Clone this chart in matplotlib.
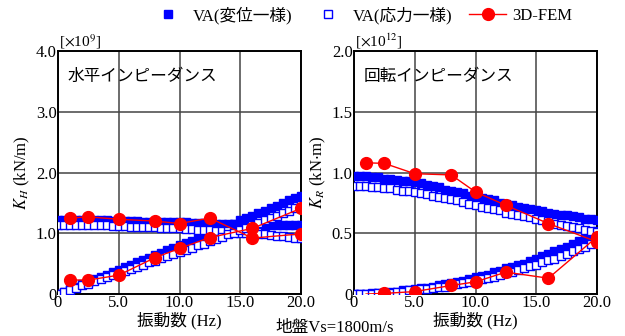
import matplotlib
matplotlib.use("Agg")
import matplotlib.pyplot as plt
from matplotlib.lines import Line2D

FAM = ['Liberation Serif', 'Noto Sans CJK JP']
plt.rcParams['font.family'] = FAM
plt.rcParams['mathtext.fontset'] = 'stix'

# frequency (Hz), 0.5 Hz step
freq = [i * 0.5 for i in range(41)]

# horizontal impedance K_H [x1e9 kN/m]
kh_re_disp = [1.22, 1.22, 1.22, 1.22, 1.21, 1.21, 1.21, 1.21, 1.21, 1.20, 1.20,
              1.20, 1.20, 1.20, 1.19, 1.19, 1.19, 1.19, 1.18, 1.18, 1.18,
              1.18, 1.17, 1.17, 1.17, 1.17, 1.16, 1.16, 1.16, 1.16, 1.15,
              1.15, 1.15, 1.15, 1.14, 1.14, 1.14, 1.14, 1.13, 1.13, 1.13]
kh_im_disp = [0.00, 0.04, 0.08, 0.12, 0.16, 0.20, 0.24, 0.28, 0.32, 0.36, 0.40,
              0.44, 0.48, 0.52, 0.56, 0.60, 0.64, 0.68, 0.72, 0.76, 0.80,
              0.84, 0.88, 0.92, 0.96, 1.00, 1.04, 1.08, 1.12, 1.16, 1.21,
              1.25, 1.29, 1.33, 1.37, 1.41, 1.45, 1.49, 1.54, 1.58, 1.62]
kh_re_strs = [1.14, 1.14, 1.14, 1.14, 1.14, 1.13, 1.13, 1.13, 1.13, 1.12, 1.12,
              1.12, 1.11, 1.11, 1.11, 1.10, 1.10, 1.09, 1.09, 1.08, 1.08,
              1.07, 1.07, 1.06, 1.06, 1.05, 1.04, 1.04, 1.03, 1.02, 1.01,
              1.01, 1.00, 0.99, 0.98, 0.97, 0.96, 0.95, 0.94, 0.93, 0.92]
kh_im_strs = [0.00, 0.03, 0.07, 0.10, 0.14, 0.17, 0.21, 0.24, 0.28, 0.31, 0.34,
              0.38, 0.41, 0.45, 0.48, 0.52, 0.55, 0.59, 0.62, 0.66, 0.69,
              0.73, 0.76, 0.80, 0.83, 0.87, 0.90, 0.94, 0.98, 1.01, 1.05,
              1.09, 1.13, 1.17, 1.21, 1.25, 1.29, 1.33, 1.37, 1.42, 1.46]

# rotational impedance K_R [x1e12 kN.m]
kr_re_disp = [0.97, 0.97, 0.97, 0.96, 0.96, 0.95, 0.95, 0.94, 0.93, 0.93, 0.92,
              0.91, 0.90, 0.89, 0.88, 0.86, 0.85, 0.84, 0.83, 0.81, 0.80,
              0.79, 0.78, 0.77, 0.75, 0.74, 0.73, 0.72, 0.71, 0.70, 0.69,
              0.68, 0.67, 0.66, 0.65, 0.65, 0.64, 0.63, 0.62, 0.62, 0.61]
kr_im_disp = [0.00, 0.00, 0.00, 0.01, 0.01, 0.01, 0.02, 0.02, 0.03, 0.03, 0.04,
              0.05, 0.05, 0.06, 0.07, 0.08, 0.09, 0.10, 0.11, 0.12, 0.14,
              0.15, 0.16, 0.18, 0.19, 0.21, 0.22, 0.24, 0.25, 0.27, 0.29,
              0.31, 0.33, 0.35, 0.37, 0.39, 0.41, 0.44, 0.46, 0.49, 0.52]
kr_re_strs = [0.89, 0.89, 0.89, 0.88, 0.88, 0.87, 0.87, 0.86, 0.85, 0.85, 0.84,
              0.83, 0.82, 0.81, 0.80, 0.79, 0.78, 0.77, 0.76, 0.74, 0.73,
              0.72, 0.71, 0.70, 0.69, 0.67, 0.66, 0.65, 0.64, 0.63, 0.62,
              0.61, 0.60, 0.58, 0.57, 0.56, 0.55, 0.54, 0.53, 0.52, 0.51]
kr_im_strs = [0.00, 0.00, 0.00, 0.00, 0.01, 0.01, 0.01, 0.02, 0.02, 0.03, 0.03,
              0.04, 0.04, 0.05, 0.06, 0.06, 0.07, 0.08, 0.09, 0.10, 0.11,
              0.12, 0.13, 0.14, 0.16, 0.17, 0.18, 0.20, 0.21, 0.23, 0.24,
              0.26, 0.28, 0.29, 0.31, 0.33, 0.35, 0.37, 0.39, 0.41, 0.43]

# 3D-FEM results
fem_freq = [1.0, 2.5, 5.0, 8.0, 10.0, 12.5, 16.0, 20.0]
fem_kh_re = [1.25, 1.27, 1.23, 1.20, 1.16, 1.25, 0.92, 0.99]
fem_kh_im = [0.23, 0.23, 0.31, 0.60, 0.75, 0.93, 1.08, 1.41]
fem_kr_re = [1.08, 1.075, 0.99, 0.98, 0.84, 0.73, 0.58, 0.43]
fem_kr_im = [0.0, 0.005, 0.02, 0.07, 0.10, 0.18, 0.13, 0.47]

BLUE = '#0000ff'
RED = '#ff0000'
FS = 12

fig = plt.figure(figsize=(6.25, 3.36), dpi=100)
ax1 = fig.add_axes([0.0928, 0.125, 0.3888, 0.7232])
ax2 = fig.add_axes([0.5664, 0.125, 0.3888, 0.7232])

panels = [
    (ax1, kh_re_disp, kh_im_disp, kh_re_strs, kh_im_strs, fem_kh_re, fem_kh_im,
     4.0, [0, 1.0, 2.0, 3.0, 4.0], ['0', '1.0', '2.0', '3.0', '4.0'],
     r'$K_H$ (kN/m)', r'[$\times$10$^{9}$]', '水平インピーダンス', None),
    (ax2, kr_re_disp, kr_im_disp, kr_re_strs, kr_im_strs, fem_kr_re, fem_kr_im,
     2.0, [0, 0.5, 1.0, 1.5, 2.0], ['0', '0.5', '1.0', '1.5', '2.0'],
     r'$K_R$ (kN$\cdot$m)', r'[$\times$10$^{12}$]', '回転インピーダンス', range(1, 8)),
]

for ax, rd, idp, rs, ist, fre, fim, ymax, yt, ytl, ylab, scale, title, mev in panels:
    for s in (rd, idp):
        ax.plot(freq, s, ls='none', marker='s', ms=5.5, mfc=BLUE, mec=BLUE,
                mew=1, zorder=3)
    for s in (rs, ist):
        ax.plot(freq, s, ls='none', marker='s', ms=5.5, mfc='white', mec=BLUE,
                mew=1, zorder=4)
    ax.plot(fem_freq, fre, color=RED, lw=1, marker='o', ms=8.5, zorder=5)
    ax.plot(fem_freq, fim, color=RED, lw=1, marker='o', ms=8.5, zorder=5,
            markevery=mev)

    ax.set_xlim(0, 20)
    ax.set_ylim(0, ymax)
    ax.set_xticks([0, 5, 10, 15, 20])
    ax.set_xticklabels(['0', '5.0', '10.0', '15.0', '20.0'], fontsize=FS,
                       family=FAM)
    ax.set_yticks(yt)
    ax.set_yticklabels(ytl, fontsize=FS, family=FAM)
    ax.tick_params(length=0, pad=1)
    ax.grid(True, color='#444444', lw=1.1)
    ax.set_axisbelow(True)
    for sp in ax.spines.values():
        sp.set_linewidth(1.4)
    ax.set_xlabel('振動数 (Hz)', fontsize=FS, family=FAM, labelpad=0)
    ax.set_ylabel(ylab, fontsize=FS, family=FAM)
    ax.yaxis.set_label_coords(-0.105, 0.5)
    ax.text(0.005, 1.0, scale, transform=ax.transAxes, ha='left', va='bottom',
            fontsize=FS - 1, family=FAM)
    ax.text(0.04, 0.93, title, transform=ax.transAxes, ha='left', va='top',
            fontsize=FS, family=['Noto Sans CJK JP'])

fig.text(0.535, 0.012, '地盤Vs=1800m/s', ha='center', va='baseline',
         fontsize=FS, family=FAM)

handles = [
    Line2D([], [], ls='none', marker='s', ms=6, mfc=BLUE, mec=BLUE),
    Line2D([], [], ls='none', marker='s', ms=6, mfc='white', mec=BLUE),
    Line2D([], [], color=RED, lw=1, marker='o', ms=8.5),
]
fig.legend(handles, ['VA(変位一様)', 'VA(応力一様)', '3D-FEM'], ncol=3,
           loc='center', bbox_to_anchor=(0.578, 0.955), frameon=False,
           prop={'family': FAM, 'size': FS}, handlelength=2.2,
           columnspacing=1.0, handletextpad=0.4, borderpad=0)

fig.savefig('out.png', dpi=100)
